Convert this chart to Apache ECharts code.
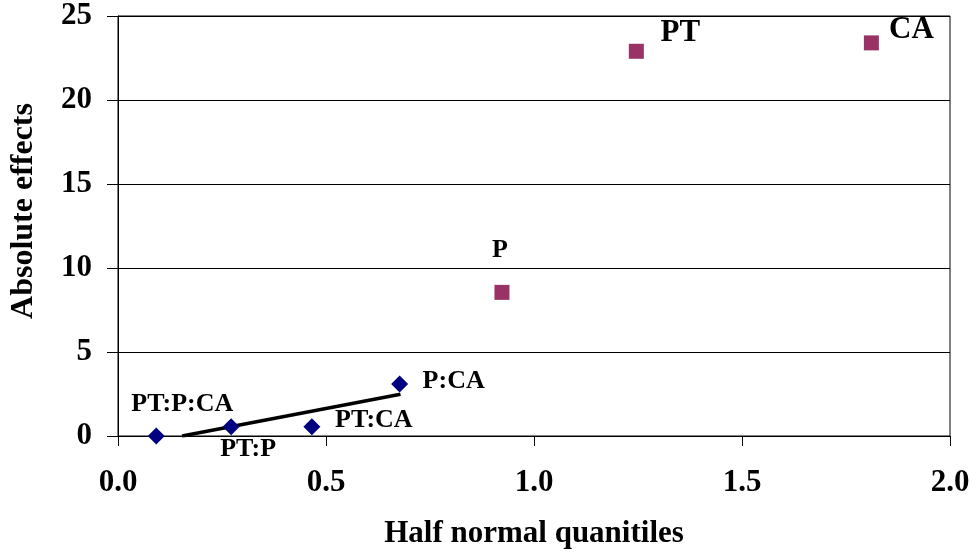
<!DOCTYPE html>
<html>
<head>
<meta charset="utf-8">
<script src="https://cdn.jsdelivr.net/npm/echarts@6/dist/echarts.min.js"></script>
<style>html,body{margin:0;padding:0;background:#fff}#c{width:977px;height:556px}</style>
</head>
<body>
<div id="c"></div>
<script>
// ---- data ----
const minorNames = ['PT:P:CA', 'PT:P', 'PT:CA', 'P:CA'];
const minorX = [0.092, 0.272, 0.466, 0.677];
const minorY = [0.0, 0.55, 0.55, 3.1];

const majorNames = ['P', 'PT', 'CA'];
const majorX = [0.923, 1.246, 1.811];
const majorY = [8.55, 22.9, 23.4];

const fitLineX = [0.154, 0.679];
const fitLineY = [0.0, 2.48];

const xTicks = ['0.0', '0.5', '1.0', '1.5', '2.0'];
const yTicks = ['0', '5', '10', '15', '20', '25'];

// ---- styling (label placement) ----
const labelOffset = {
  'PT:P:CA': [26, -32], 'PT:P': [17, 23], 'PT:CA': [62, -6], 'P:CA': [54, -3],
  'P': [-2, -42], 'PT': [44, -18], 'CA': [40, -13]
};
const labelSize = { 'PT': 31, 'CA': 31 };

const FONT = '"Liberation Serif", "Times New Roman", serif';

function pts(names, xs, ys) {
  return names.map((n, i) => ({
    name: n,
    value: [xs[i], ys[i]],
    label: { offset: labelOffset[n], fontSize: labelSize[n] || 26 }
  }));
}

const chart = echarts.init(document.getElementById('c'), null, { renderer: 'canvas' });
chart.setOption({
  animation: false,
  backgroundColor: '#fff',
  grid: { left: 116, right: 27, top: 16, bottom: 120, show: true, borderColor: '#000', borderWidth: 1 },
  xAxis: {
    type: 'value', min: 0, max: 2, interval: 0.5,
    name: 'Half normal quanitiles', nameLocation: 'middle', nameGap: 82,
    nameTextStyle: { fontFamily: FONT, fontWeight: 'bold', fontSize: 31, color: '#000' },
    axisLine: { lineStyle: { color: '#000', width: 1 } },
    axisTick: { show: true, length: 10, inside: false, lineStyle: { color: '#000' } },
    axisLabel: {
      margin: 31, fontFamily: FONT, fontWeight: 'bold', fontSize: 31, color: '#000',
      formatter: v => xTicks[Math.round(v / 0.5)]
    },
    splitLine: { show: false }
  },
  yAxis: {
    type: 'value', min: 0, max: 25, interval: 5,
    name: 'Absolute effects', nameLocation: 'middle', nameGap: 78, nameRotate: 90,
    nameTextStyle: { fontFamily: FONT, fontWeight: 'bold', fontSize: 32, color: '#000', padding: [0, 0, 0, 30] },
    axisLine: { show: true, lineStyle: { color: '#000', width: 1 } },
    axisTick: { show: true, length: 11, inside: false, lineStyle: { color: '#000' } },
    axisLabel: {
      margin: 26, fontFamily: FONT, fontWeight: 'bold', fontSize: 31, color: '#000',
      formatter: v => yTicks[Math.round(v / 5)]
    },
    splitLine: { show: true, lineStyle: { color: '#000', width: 1 } }
  },
  series: [
    {
      type: 'line',
      data: fitLineX.map((x, i) => [x, fitLineY[i]]),
      symbol: 'none',
      lineStyle: { color: '#000', width: 3.5 },
      z: 3
    },
    {
      type: 'scatter',
      data: pts(minorNames, minorX, minorY),
      symbol: 'diamond', symbolSize: 17,
      itemStyle: { color: '#000080', opacity: 1 },
      label: {
        show: true, position: 'inside', formatter: p => p.name,
        fontFamily: FONT, fontWeight: 'bold', color: '#000', align: 'center', verticalAlign: 'middle'
      },
      z: 4
    },
    {
      type: 'scatter',
      data: pts(majorNames, majorX, majorY),
      symbol: 'rect', symbolSize: 15,
      itemStyle: { color: '#993366', opacity: 1 },
      label: {
        show: true, position: 'inside', formatter: p => p.name,
        fontFamily: FONT, fontWeight: 'bold', color: '#000', align: 'center', verticalAlign: 'middle'
      },
      z: 4
    }
  ]
});
</script>
</body>
</html>
